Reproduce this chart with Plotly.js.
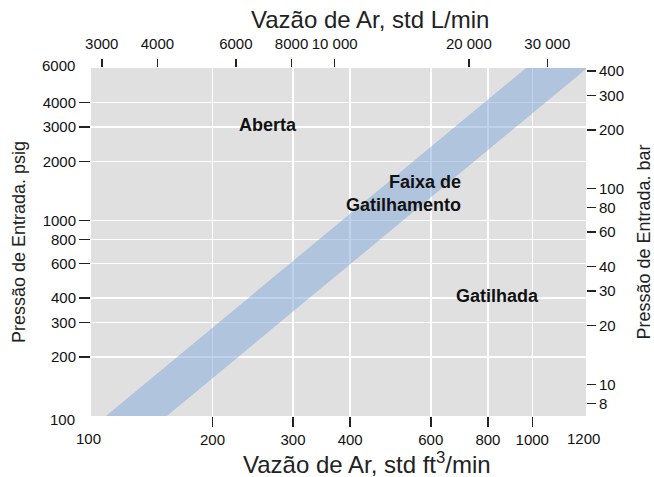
<!DOCTYPE html>
<html>
<head>
<meta charset="utf-8">
<script src="https://cdn.plot.ly/plotly-3.0.1.min.js"></script>
<style>
  html, body { margin: 0; padding: 0; background: #ffffff; }
  #chart { width: 654px; height: 477px; }
</style>
</head>
<body>
<div id="chart"></div>
<script>
// ---- data ----
// Bottom axis: air flow, std ft3/min (log scale)
const flowCfmTicks = [100, 200, 300, 400, 600, 800, 1000, 1200];
// Top axis: air flow, std L/min
const flowLpmTicks = [3000, 4000, 6000, 8000, 10000, 20000, 30000];
const flowLpmLabels = ['3000', '4000', '6000', '8000', '10 000', '20 000', '30 000'];
// Left axis: inlet pressure, psig
const psigTicks = [100, 200, 300, 400, 600, 800, 1000, 2000, 3000, 4000, 6000];
// Right axis: inlet pressure, bar
const barTicks = [8, 10, 20, 30, 40, 60, 80, 100, 200, 300, 400];

// Tripping band ("Faixa de Gatilhamento") boundaries
const bandPressurePsig = [100, 6000];
const bandOpenEdgeFlow = [117, 969];      // edge on the "Aberta" side
const bandTrippedEdgeFlow = [159, 1318];  // edge on the "Gatilhada" side

// unit conversions
const LPM_PER_CFM = 28.3168;
const PSI_PER_BAR = 14.5038;

// axis extents (log10)
const xRange = [2.0355, 3.1175];
const yRange = [Math.log10(100), Math.log10(6000)];
const x2Range = [3.453, 4.564];
const y2Range = yRange.map(v => v - Math.log10(PSI_PER_BAR));

// interior ticks carry marks + grid, end values sit at the plot corners
const cfmInner = flowCfmTicks.slice(1, -1);
const cfmFirst = flowCfmTicks[0];
const cfmLast = flowCfmTicks[flowCfmTicks.length - 1];
const psigInner = psigTicks.slice(1, -1);
const psigFirst = psigTicks[0];
const psigLast = psigTicks[psigTicks.length - 1];

const bandX = bandOpenEdgeFlow.concat(bandTrippedEdgeFlow.slice().reverse());
const bandY = bandPressurePsig.concat(bandPressurePsig.slice().reverse());

const FONT = 'Liberation Sans, Arial, Helvetica, sans-serif';
const tickFont = { family: FONT, size: 15, color: '#111' };
const titleFont = { family: FONT, size: 24, color: '#222' };
const regionFont = { family: FONT, size: 18, color: '#111' };

const traces = [
  {
    type: 'scatter', mode: 'lines',
    x: bandX, y: bandY,
    fill: 'toself',
    fillcolor: 'rgba(128,168,220,0.5)',
    line: { width: 0, color: 'rgba(0,0,0,0)' },
    hoverinfo: 'skip', showlegend: false
  },
  // same band expressed in L/min (top axis) – invisible, keeps the top scale attached
  {
    type: 'scatter', mode: 'lines',
    x: bandX.map(v => v * LPM_PER_CFM), y: bandY,
    xaxis: 'x2', yaxis: 'y',
    line: { width: 0, color: 'rgba(0,0,0,0)' }, opacity: 0,
    hoverinfo: 'skip', showlegend: false
  },
  // same band expressed in bar (right axis) – invisible, keeps the right scale attached
  {
    type: 'scatter', mode: 'lines',
    x: bandX, y: bandY.map(v => v / PSI_PER_BAR),
    xaxis: 'x', yaxis: 'y2',
    line: { width: 0, color: 'rgba(0,0,0,0)' }, opacity: 0,
    hoverinfo: 'skip', showlegend: false
  }
];

const layout = {
  width: 654,
  height: 477,
  margin: { l: 91, r: 68, t: 68, b: 61, pad: 0 },
  paper_bgcolor: '#ffffff',
  plot_bgcolor: '#e0e0e0',
  showlegend: false,
  font: { family: FONT, color: '#111' },
  xaxis: {
    type: 'log', range: xRange,
    tickmode: 'array', tickvals: cfmInner, ticktext: cfmInner.map(String),
    tickangle: 0,
    ticks: 'outside', ticklen: 10, tickwidth: 1.5, tickcolor: '#222',
    showgrid: true, gridcolor: '#ffffff', gridwidth: 1.5,
    zeroline: false, showline: false,
    tickfont: tickFont
  },
  xaxis2: {
    type: 'log', overlaying: 'x', side: 'top', anchor: 'y',
    range: x2Range,
    tickmode: 'array', tickvals: flowLpmTicks, ticktext: flowLpmLabels,
    tickangle: 0,
    ticks: 'outside', ticklen: 8, tickwidth: 1.5, tickcolor: '#222',
    ticklabelstandoff: 4,
    showgrid: false, zeroline: false, showline: false,
    tickfont: tickFont
  },
  yaxis: {
    type: 'log', range: yRange,
    tickmode: 'array', tickvals: psigInner, ticktext: psigInner.map(String),
    ticks: 'outside', ticklen: 11, tickwidth: 1.5, tickcolor: '#222',
    showgrid: true, gridcolor: '#ffffff', gridwidth: 1.5,
    zeroline: false, showline: false,
    tickfont: tickFont,
    title: { text: 'Pressão de Entrada. psig', font: { family: FONT, size: 18, color: '#222' }, standoff: 12 }
  },
  yaxis2: {
    type: 'log', overlaying: 'y', side: 'right', anchor: 'x',
    range: y2Range,
    tickmode: 'array', tickvals: barTicks, ticktext: barTicks.map(String),
    ticks: 'outside', ticklen: 9, tickwidth: 1.5, tickcolor: '#222',
    showgrid: false, zeroline: false, showline: false,
    tickfont: tickFont,
    title: { text: 'Pressão de Entrada. bar', font: { family: FONT, size: 18, color: '#222' }, standoff: 14 }
  },
  annotations: [
    // axis titles for the two flow scales
    { xref: 'paper', yref: 'paper', x: 0.5576, y: -0.134, xanchor: 'center', yanchor: 'middle',
      text: 'Vazão de Ar, std ft<sup>3</sup>/min', showarrow: false, font: titleFont },
    { xref: 'paper', yref: 'paper', x: 0.5636, y: 1.138, xanchor: 'center', yanchor: 'middle',
      text: 'Vazão de Ar, std L/min', showarrow: false, font: titleFont },
    // end labels of the ft3/min scale, at the plot corners
    { xref: 'paper', yref: 'paper', x: 0, y: 0, xanchor: 'center', yanchor: 'top', yshift: -12, xshift: -3,
      text: String(cfmFirst), showarrow: false, font: tickFont },
    { xref: 'paper', yref: 'paper', x: 1, y: 0, xanchor: 'center', yanchor: 'top', yshift: -12, xshift: -3,
      text: String(cfmLast), showarrow: false, font: tickFont },
    // end labels of the psig scale, at the plot corners
    { xref: 'paper', yref: 'paper', x: 0, y: 0, xanchor: 'right', yanchor: 'middle', yshift: -3, xshift: -14,
      text: String(psigFirst), showarrow: false, font: tickFont },
    { xref: 'paper', yref: 'paper', x: 0, y: 1, xanchor: 'right', yanchor: 'middle', yshift: 3, xshift: -14,
      text: String(psigLast), showarrow: false, font: tickFont },
    // region labels
    { xref: 'paper', yref: 'paper', x: 0.358, y: 0.836, xanchor: 'center', yanchor: 'middle',
      text: '<b>Aberta</b>', showarrow: false, font: regionFont },
    { xref: 'paper', yref: 'paper', x: 0.7515, y: 0.638, xanchor: 'right', yanchor: 'middle',
      text: '<b>Faixa de<br>Gatilhamento</b>', showarrow: false, align: 'right', font: regionFont },
    { xref: 'paper', yref: 'paper', x: 0.822, y: 0.345, xanchor: 'center', yanchor: 'middle',
      text: '<b>Gatilhada</b>', showarrow: false, font: regionFont }
  ]
};

Plotly.newPlot('chart', traces, layout, { displayModeBar: false, staticPlot: true });
</script>
</body>
</html>
